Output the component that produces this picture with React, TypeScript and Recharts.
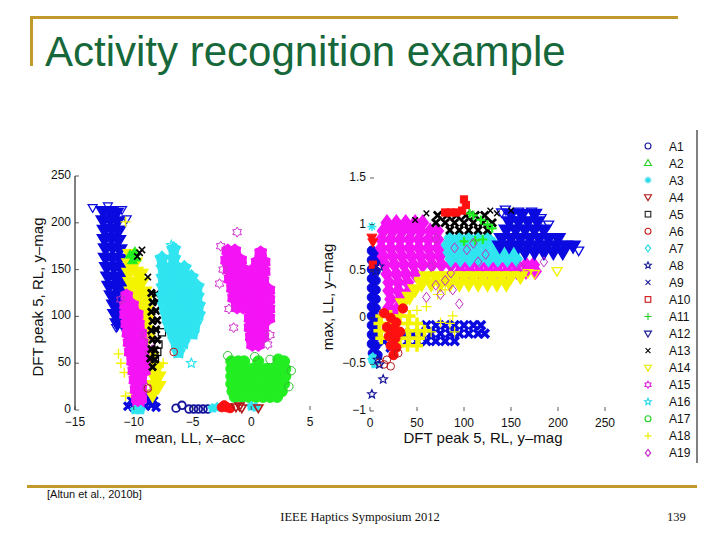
import React from 'react';
import { ScatterChart, Scatter, XAxis, YAxis } from 'recharts';

type P = [number, number];

// ---------- axis ticks ----------
const LEFT_X_TICKS = [-15, -10, -5, 0, 5];
const LEFT_Y_TICKS = [0, 50, 100, 150, 200, 250];
const RIGHT_X_TICKS = [0, 50, 100, 150, 200, 250];
const RIGHT_Y_TICKS = [-1, -0.5, 0, 0.5, 1, 1.5];

// ---------- legend ----------
const LEGEND_LABELS = ['A1','A2','A3','A4','A5','A6','A7','A8','A9','A10','A11','A12','A13','A14','A15','A16','A17','A18','A19'];
const LEGEND_SHAPES = ['circle','triUp','asterisk','triDown','square','circle','diamond','star','x','square','plus','triDown','x','triDown','hex','star','circle','plus','diamond'];
const LEGEND_COLORS = ['#14149a','#22cc22','#22d8ea','#b41414','#222222','#cc2020','#22d8ea','#14149a','#14149a','#cc1010','#22cc22','#14149a','#000000','#e8e800','#e020e0','#22d8ea','#22cc22','#ecec00','#c020c0'];

// ---------- colours ----------
const BLUE = '#0a0ae0';
const MAG = '#f514f5';
const CYAN = '#30e4f0';
const GREEN = '#22ee22';
const YEL = '#f4f400';
const RED = '#ff1010';
const DRED = '#b41818';
const BLK = '#000000';
const NAVY = '#14149a';

// ---------- LEFT plot: mean LL x-acc vs DFT peak 5 RL y-mag ----------
const L_A12: P[] = [
  [-12.6,212],[-12.0,212],[-11.5,210],[-12.6,202],[-12.0,203],[-11.4,201],
  [-12.5,192],[-11.9,193],[-11.3,191],[-12.5,182],[-11.9,183],[-11.3,181],
  [-12.4,172],[-11.8,173],[-11.2,171],[-12.4,162],[-11.8,162],[-11.2,161],
  [-12.3,152],[-11.7,152],[-11.1,151],[-12.2,142],[-11.6,141],[-11.1,142],
  [-12.1,132],[-11.5,131],[-11.0,132],[-11.9,122],[-11.4,121],[-10.9,122],
  [-11.7,112],[-11.2,111],[-10.9,112],[-11.6,102],[-11.1,101],[-11.4,92],[-11.0,93],
];
const L_A12_OUT: P[] = [[-13.5,216],[-12.2,218],[-11.0,214],[-10.6,204],[-11.5,88]];
const L_A9: P[] = [[-10.5,4],[-10.0,3],[-9.5,4],[-9.0,4],[-8.5,5],[-8.1,3],[-9.7,11],[-9.2,13],[-8.7,12],[-8.3,10],[-10.2,10]];
const L_A14: P[] = [
  [-10.3,166],[-10.4,156],[-9.9,157],[-10.4,146],[-9.8,147],[-9.4,145],
  [-10.3,136],[-9.8,135],[-9.3,136],[-10.2,126],[-9.7,125],[-9.1,126],
  [-10.0,116],[-9.6,115],[-9.0,116],[-9.5,105],[-9.0,106],[-9.2,95],[-8.9,96],
  [-9.0,85],[-8.8,76],[-8.5,56],[-8.4,46],[-8.0,45],[-8.3,36],[-7.9,35],[-8.3,26],[-7.9,25],[-8.4,16],
];
const L_A18_OUT: P[] = [[-11.1,50],[-10.7,15],[-10.7,201],[-11.3,60],[-10.8,40],[-10.2,18],[-7.5,50]];
const L_A15: P[] = [
  [-10.6,122],[-10.7,112],[-10.1,112],[-10.7,102],[-10.1,102],[-9.7,102],
  [-10.6,92],[-10.0,92],[-9.6,92],[-10.5,82],[-9.9,82],[-9.4,82],
  [-10.4,72],[-9.8,72],[-9.3,72],[-10.3,62],[-9.7,62],[-9.2,62],
  [-10.1,52],[-9.6,52],[-9.1,52],[-10.0,42],[-9.5,42],[-9.1,42],
  [-9.9,32],[-9.4,32],[-9.8,22],[-9.4,22],[-9.7,12],[-9.4,12],[-9.6,4],
];
const L_A15_OUT: P[] = [[-8.6,72],[-8.7,60],[-11.1,118],[-8.9,24],[-9.0,80]];
const L_A13: P[] = [
  [-8.5,125],[-8.1,124],[-8.4,115],[-8.0,116],[-8.5,105],[-8.1,106],[-8.4,95],[-8.0,96],
  [-8.5,85],[-8.1,86],[-8.4,75],[-8.0,75],[-8.5,65],[-8.2,64],[-8.6,55],[-8.2,54],[-8.4,46],
];
const L_A13_OUT: P[] = [[-9.5,168],[-9.7,164],[-8.8,142],[-9.3,171]];
const L_A5: P[] = [[-7.6,83],[-7.9,70],[-8.2,55],[-8.0,62]];
const L_A2: P[] = [[-10.3,166],[-9.9,169],[-10.1,160],[-9.8,163]];
const L_A16: P[] = [
  [-6.6,172],[-7.6,162],[-6.6,162],
  [-7.5,152],[-6.9,152],[-6.3,152],[-5.7,152],
  [-7.5,142],[-6.9,142],[-6.3,142],[-5.7,142],[-5.1,142],
  [-7.5,132],[-6.9,132],[-6.3,132],[-5.7,132],[-5.1,132],[-4.6,132],
  [-7.5,122],[-6.9,122],[-6.3,122],[-5.7,122],[-5.1,122],[-4.6,122],
  [-7.4,112],[-6.8,112],[-6.2,112],[-5.6,112],[-5.0,112],[-4.5,112],
  [-7.2,102],[-6.7,102],[-6.1,102],[-5.5,102],[-4.9,102],[-4.5,102],
  [-7.0,92],[-6.5,92],[-5.9,92],[-5.3,92],[-4.8,92],
  [-6.7,82],[-6.2,82],[-5.6,82],[-5.0,82],[-6.4,72],[-5.8,72],[-6.2,62],
];
const L_A16_OUT: P[] = [[-5.1,50],[-6.8,176]];
const L_A15B: P[] = [
  [0.8,168],[0.5,158],[1.1,158],[0.0,148],[0.5,148],[1.1,148],
  [-0.2,138],[0.4,138],[1.0,138],[-0.2,128],[0.4,128],[1.0,128],[1.5,128],
  [-0.2,118],[0.4,118],[1.0,118],[1.5,118],[-0.2,108],[0.4,108],[1.0,108],[1.5,108],
  [-0.1,98],[0.5,98],[1.0,98],[1.5,98],[-0.1,88],[0.5,88],[1.0,88],
  [0.0,78],[0.5,78],[1.0,78],[0.1,70],[0.6,70],
  [-2.0,170],[-1.4,170],[-2.1,160],[-1.5,160],[-0.9,160],[-1.9,150],[-1.3,150],[-0.7,150],
  [-1.8,140],[-1.2,140],[-0.6,140],[-1.6,130],[-1.0,130],[-1.5,120],[-0.9,120],[-1.2,110],[-0.7,110],
];
const L_A15B_OUT: P[] = [[-1.2,190],[-2.6,175],[-2.7,135],[-1.9,108],[-1.5,88],[1.4,70],[1.6,80],[-2.4,150]];
const L_A17: P[] = [
  [-1.7,52],[-1.1,52],[-0.6,52],[0.6,52],[2.3,54],[2.8,52],
  [-1.7,44],[-1.1,44],[-0.5,44],[0.1,44],[0.7,44],[1.3,44],[1.9,44],[2.5,44],[2.9,44],
  [-1.7,36],[-1.1,36],[-0.5,36],[0.1,36],[0.7,36],[1.3,36],[1.9,36],[2.5,36],[2.9,36],
  [-1.7,28],[-1.1,28],[-0.5,28],[0.1,28],[0.7,28],[1.3,28],[1.9,28],[2.5,28],[2.8,28],
  [-1.6,20],[-1.0,20],[-0.4,20],[0.2,20],[0.8,20],[1.4,20],[2.0,20],[2.6,20],
  [-1.4,14],[-0.8,14],[-0.2,14],[0.4,14],[1.0,14],[1.6,14],[2.2,14],
];
const L_A17_OUT: P[] = [[3.4,42],[0.3,57],[1.6,54],[-2.0,58],[3.2,25]];
const L_A1: P[] = [[-6.4,2],[-5.9,5],[-5.3,1],[-4.9,1],[-4.5,1],[-4.1,1],[-3.7,1]];
const L_A16_BOT: P[] = [[-3.3,2],[-2.9,3],[0.0,4],[0.4,3],[-9.9,0],[-9.4,0]];
const L_A6: P[] = [[-2.5,3],[-2.1,3],[-1.8,2],[-2.3,5]];
const L_A4: P[] = [[-1.3,3],[-0.8,2],[0.6,2],[-1.0,4]];
const L_A6_OUT: P[] = [[-6.6,62],[-8.8,23]];

// ---------- RIGHT plot: DFT peak 5 RL y-mag vs max LL y-mag ----------
const R_A1: P[] = [
  [2,0.72],[6,0.7],[2,0.62],[6,0.6],[2,0.52],[6,0.5],[2,0.42],[6,0.4],[2,0.32],[6,0.3],
  [2,0.22],[6,0.2],[2,0.12],[6,0.1],[2,0.02],[6,0.0],[2,-0.08],[6,-0.1],[2,-0.18],[6,-0.2],
  [2,-0.28],[6,-0.3],[3,-0.38],[8,-0.4],
];
const R_A16: P[] = [[2,-0.45],[5,-0.5],[3,-0.42]];
const R_A19: P[] = [
  [18,1.02],[28,1.02],[38,1.02],[48,1.02],[56,1.02],
  [14,0.93],[24,0.93],[34,0.93],[44,0.93],[54,0.93],[64,0.93],[72,0.93],
  [12,0.84],[22,0.84],[32,0.84],[42,0.84],[52,0.84],[62,0.84],[72,0.84],
  [12,0.75],[22,0.75],[32,0.75],[42,0.75],[52,0.75],[62,0.75],[72,0.75],[80,0.75],
  [14,0.66],[24,0.66],[34,0.66],[44,0.66],[54,0.66],[64,0.66],[74,0.66],
  [16,0.57],[26,0.57],[36,0.57],[46,0.57],[56,0.57],[66,0.57],[76,0.57],[86,0.57],[96,0.57],
  [106,0.57],[116,0.57],[126,0.57],[136,0.57],[146,0.57],[156,0.57],[166,0.57],[174,0.57],
  [96,0.5],[106,0.5],[116,0.5],[126,0.5],[136,0.5],[146,0.5],[156,0.5],[166,0.5],[176,0.5],
  [18,0.47],[28,0.47],[38,0.47],[48,0.47],[20,0.38],[30,0.38],[40,0.38],
  [20,0.29],[30,0.29],[42,0.29],[22,0.2],[32,0.2],[20,0.11],[30,0.11],[24,0.02],
];
const R_A19_OUT: P[] = [
  [95,0.15],[88,0.3],[70,0.35],[60,0.22],[80,0.4],[115,0.6],[185,0.6],[160,0.55],
  [90,0.75],[103,0.73],[70,0.85],[86,0.48],[75,0.25],[65,0.55],[110,0.8],[123,0.68],
];
const R_A7: P[] = [
  [85,0.86],[95,0.86],[105,0.86],[115,0.86],[125,0.86],
  [82,0.78],[92,0.78],[102,0.78],[112,0.78],[122,0.78],[132,0.78],
  [84,0.7],[94,0.7],[104,0.7],[114,0.7],[124,0.7],[134,0.7],[144,0.7],[154,0.7],
  [86,0.63],[96,0.63],[106,0.63],[116,0.63],[126,0.63],[136,0.63],[146,0.63],[156,0.63],
];
const R_A12: P[] = [
  [150,1.11],[162,1.11],[175,1.11],
  [148,1.03],[158,1.03],[168,1.03],[178,1.03],
  [145,0.94],[155,0.94],[165,0.94],[175,0.94],[185,0.94],
  [140,0.85],[150,0.85],[160,0.85],[170,0.85],[180,0.85],[190,0.85],[200,0.85],
  [138,0.77],[148,0.77],[158,0.77],[168,0.77],[178,0.77],[188,0.77],[198,0.77],[208,0.77],[216,0.77],
  [165,0.7],[175,0.7],[185,0.7],[195,0.7],[205,0.7],
];
const R_A12_OUT: P[] = [[140,1.13],[144,1.16],[158,1.14],[172,1.14],[182,1.07],[222,0.72],[190,1.0]];
const R_A14: P[] = [
  [60,0.44],[70,0.44],[80,0.44],[90,0.44],[100,0.44],[110,0.44],[120,0.44],[130,0.44],[140,0.44],[150,0.44],[160,0.44],
  [55,0.36],[65,0.36],[75,0.36],[85,0.36],[95,0.36],[105,0.36],[115,0.36],[125,0.36],[135,0.36],[145,0.36],
  [35,0.15],[42,0.22],[48,0.3],[55,0.38],
];
const R_A14_OUT: P[] = [[199,0.5],[175,0.47],[168,0.48]];
const R_A13: P[] = [
  [72,1.1],[82,1.1],[92,1.1],[102,1.1],[112,1.1],[122,1.1],
  [70,1.02],[80,1.02],[90,1.02],[100,1.02],[110,1.02],[120,1.02],[130,1.02],
  [85,0.94],[95,0.94],[105,0.94],[115,0.94],[125,0.94],
];
const R_A13_OUT: P[] = [[60,1.12],[48,1.05],[150,1.15],[128,1.15],[135,1.12]];
const R_A10: P[] = [[100,1.27],[102,1.21],[98,1.15],[80,1.13],[86,1.13],[92,1.13],[3,0.57]];
const R_A11: P[] = [[110,1.1],[118,1.05],[125,1.0],[130,0.96],[112,0.83],[120,0.84],[100,0.82],[106,1.12]];
const R_A9: P[] = [
  [60,-0.08],[70,-0.08],[80,-0.08],[90,-0.08],[100,-0.08],[110,-0.08],[118,-0.08],
  [35,-0.17],[45,-0.17],[55,-0.17],[65,-0.17],[75,-0.17],[85,-0.17],[95,-0.17],[105,-0.17],[115,-0.17],[122,-0.17],
  [15,-0.25],[25,-0.25],[40,-0.25],[50,-0.25],[60,-0.25],[70,-0.25],[80,-0.25],[90,-0.25],[22,-0.32],
];
const R_A18: P[] = [
  [12,0.02],[22,0.02],[32,0.02],[42,0.02],
  [10,-0.06],[20,-0.06],[30,-0.06],[40,-0.06],[50,-0.06],
  [10,-0.14],[20,-0.14],[30,-0.14],[40,-0.14],[50,-0.14],[58,-0.14],
  [12,-0.22],[22,-0.22],[32,-0.22],[42,-0.22],[52,-0.22],
  [30,-0.3],[40,-0.3],[50,-0.3],
];
const R_A18_OUT: P[] = [[75,-0.05],[85,-0.06],[65,-0.15],[72,0.25],[80,0.3],[60,0.12],[90,-0.15],[50,0.08],[88,0.02]];
const R_A6: P[] = [[15,0.05],[22,0.0],[28,-0.05],[18,-0.1],[25,-0.12],[32,-0.15],[20,-0.2],[27,-0.22],[22,-0.3],[28,-0.32],[25,-0.4],[35,0.1]];
const R_A6_OUT: P[] = [[15,-0.5],[18,-0.45],[30,-0.38],[10,-0.48],[22,-0.52]];
const R_A4: P[] = [[2,0.86],[3,0.81]];
const R_A3: P[] = [[2,0.98]];
const R_A8: P[] = [[10,-0.5],[14,-0.66],[2,-0.82],[10,0.55],[6,0.5],[8,-0.45]];

// ---------- drawing helpers ----------
const FONT = '"Liberation Sans", Arial, Helvetica, sans-serif';

function starPts(cx: number, cy: number, r: number, n: number, inner: number) {
  const pts: string[] = [];
  for (let i = 0; i < n * 2; i++) {
    const rr = i % 2 === 0 ? r : r * inner;
    const a = -Math.PI / 2 + (i * Math.PI) / n;
    pts.push(`${cx + rr * Math.cos(a)},${cy + rr * Math.sin(a)}`);
  }
  return pts.join(' ');
}

function Mark({ cx, cy, shape, color, size, filled, sw }: any) {
  if (cx == null || cy == null) return null;
  const r = size / 2;
  const st = { stroke: color, strokeWidth: sw, fill: filled ? color : 'none' };
  switch (shape) {
    case 'circle':
      return <circle cx={cx} cy={cy} r={r * 0.85} {...st} />;
    case 'square':
      return <rect x={cx - r * 0.8} y={cy - r * 0.8} width={r * 1.6} height={r * 1.6} {...st} />;
    case 'diamond':
      return <polygon points={`${cx},${cy - r} ${cx + r * 0.75},${cy} ${cx},${cy + r} ${cx - r * 0.75},${cy}`} {...st} />;
    case 'triUp':
      return <polygon points={`${cx},${cy - r} ${cx + r},${cy + r * 0.7} ${cx - r},${cy + r * 0.7}`} {...st} />;
    case 'triDown':
      return <polygon points={`${cx},${cy + r} ${cx + r},${cy - r * 0.7} ${cx - r},${cy - r * 0.7}`} {...st} />;
    case 'star':
      return <polygon points={starPts(cx, cy, r, 5, filled ? 0.7 : 0.45)} {...st} />;
    case 'hex':
      return <polygon points={starPts(cx, cy, r, 6, filled ? 0.8 : 0.6)} {...st} />;
    case 'x': {
      const k = r * 0.7;
      return <path d={`M${cx - k},${cy - k}L${cx + k},${cy + k}M${cx + k},${cy - k}L${cx - k},${cy + k}`} stroke={color} strokeWidth={sw} fill="none" />;
    }
    case 'plus':
      return <path d={`M${cx - r},${cy}L${cx + r},${cy}M${cx},${cy - r}L${cx},${cy + r}`} stroke={color} strokeWidth={sw} fill="none" />;
    case 'asterisk': {
      const k = r * 0.7;
      return <path d={`M${cx - r},${cy}L${cx + r},${cy}M${cx},${cy - r}L${cx},${cy + r}M${cx - k},${cy - k}L${cx + k},${cy + k}M${cx + k},${cy - k}L${cx - k},${cy + k}`} stroke={color} strokeWidth={sw} fill="none" />;
    }
    default:
      return null;
  }
}

const toObj = (a: P[]) => a.map(([x, y]) => ({ x, y }));

type S = { d: P[]; shape: string; color: string; size: number; filled: boolean; sw: number };

const LEFT_SERIES: S[] = [
  { d: L_A12, shape: 'triDown', color: BLUE, size: 14, filled: true, sw: 1.5 },
  { d: L_A12_OUT, shape: 'triDown', color: BLUE, size: 9, filled: false, sw: 1.2 },
  { d: L_A9, shape: 'x', color: BLUE, size: 11, filled: false, sw: 3.2 },
  { d: L_A14, shape: 'triDown', color: YEL, size: 14, filled: true, sw: 1.5 },
  { d: L_A18_OUT, shape: 'plus', color: YEL, size: 10, filled: false, sw: 1.4 },
  { d: L_A2, shape: 'triUp', color: GREEN, size: 10, filled: true, sw: 1 },
  { d: L_A15, shape: 'hex', color: MAG, size: 13, filled: true, sw: 1.5 },
  { d: L_A15_OUT, shape: 'hex', color: '#c030c0', size: 10, filled: false, sw: 1 },
  { d: L_A13, shape: 'x', color: BLK, size: 10, filled: false, sw: 2.8 },
  { d: L_A13_OUT, shape: 'x', color: BLK, size: 9, filled: false, sw: 1.6 },
  { d: L_A5, shape: 'square', color: BLK, size: 9, filled: false, sw: 1.2 },
  { d: L_A16, shape: 'star', color: CYAN, size: 14, filled: true, sw: 1.5 },
  { d: L_A16_OUT, shape: 'star', color: CYAN, size: 10, filled: false, sw: 1.2 },
  { d: L_A15B, shape: 'hex', color: MAG, size: 13, filled: true, sw: 1.5 },
  { d: L_A15B_OUT, shape: 'hex', color: '#d030d0', size: 10, filled: false, sw: 1 },
  { d: L_A17, shape: 'circle', color: GREEN, size: 13, filled: true, sw: 1 },
  { d: L_A17_OUT, shape: 'circle', color: '#30c030', size: 10, filled: false, sw: 1 },
  { d: L_A1, shape: 'circle', color: NAVY, size: 9, filled: false, sw: 1.8 },
  { d: L_A16_BOT, shape: 'star', color: CYAN, size: 10, filled: true, sw: 1 },
  { d: L_A6, shape: 'circle', color: RED, size: 11, filled: true, sw: 1 },
  { d: L_A4, shape: 'triDown', color: DRED, size: 9, filled: false, sw: 1.6 },
  { d: L_A6_OUT, shape: 'circle', color: DRED, size: 9, filled: false, sw: 1 },
];

const RIGHT_SERIES: S[] = [
  { d: R_A1, shape: 'circle', color: BLUE, size: 11, filled: true, sw: 1 },
  { d: R_A16, shape: 'star', color: CYAN, size: 9, filled: true, sw: 1 },
  { d: R_A19, shape: 'diamond', color: MAG, size: 15, filled: true, sw: 1.5 },
  { d: R_A7, shape: 'diamond', color: CYAN, size: 15, filled: true, sw: 1.5 },
  { d: R_A12, shape: 'triDown', color: BLUE, size: 14, filled: true, sw: 1.5 },
  { d: R_A12_OUT, shape: 'triDown', color: BLUE, size: 10, filled: false, sw: 1.3 },
  { d: R_A14, shape: 'triDown', color: YEL, size: 14, filled: true, sw: 1.5 },
  { d: R_A14_OUT, shape: 'triDown', color: YEL, size: 10, filled: false, sw: 1.3 },
  { d: R_A13, shape: 'x', color: BLK, size: 11, filled: false, sw: 2.8 },
  { d: R_A13_OUT, shape: 'x', color: BLK, size: 8, filled: false, sw: 1.4 },
  { d: R_A11, shape: 'plus', color: GREEN, size: 9, filled: false, sw: 2.2 },
  { d: R_A10, shape: 'square', color: RED, size: 9, filled: true, sw: 1 },
  { d: R_A9, shape: 'x', color: BLUE, size: 12, filled: false, sw: 3.5 },
  { d: R_A18, shape: 'plus', color: YEL, size: 12, filled: false, sw: 3.5 },
  { d: R_A18_OUT, shape: 'plus', color: YEL, size: 10, filled: false, sw: 1.2 },
  { d: R_A6, shape: 'circle', color: RED, size: 11, filled: true, sw: 1 },
  { d: R_A6_OUT, shape: 'circle', color: DRED, size: 9, filled: false, sw: 1 },
  { d: R_A19_OUT, shape: 'diamond', color: '#c030c0', size: 10, filled: false, sw: 1 },
  { d: R_A4, shape: 'triDown', color: RED, size: 10, filled: true, sw: 1 },
  { d: R_A3, shape: 'asterisk', color: CYAN, size: 9, filled: false, sw: 1.5 },
  { d: R_A8, shape: 'star', color: NAVY, size: 9, filled: false, sw: 1.2 },
];

const fmt = (v: number) => (v < 0 ? '\u2212' + Math.abs(v) : String(v));

const XTick = (p: any) => {
  const { x, y, payload } = p;
  return (
    <g>
      <line x1={x} x2={x} y1={y - 4} y2={y - 8} stroke="#333" strokeWidth={0.8} />
      <text x={x} y={y} dy={12} textAnchor="middle" fontSize={12} fill="#111" fontFamily={FONT}>{fmt(payload.value)}</text>
    </g>
  );
};
const YTick = (p: any) => {
  const { x, y, payload } = p;
  return (
    <g>
      <line x1={x + 5} x2={x + 9} y1={y} y2={y} stroke="#333" strokeWidth={0.8} />
      <text x={x + 1} y={y} dy={3} textAnchor="end" fontSize={12} fill="#111" fontFamily={FONT}>{fmt(payload.value)}</text>
    </g>
  );
};

function renderSeries(list: S[], prefix: string) {
  return list.map((s, i) => (
    <Scatter
      key={prefix + i}
      data={toObj(s.d)}
      isAnimationActive={false}
      shape={(p: any) => <Mark cx={p.cx} cy={p.cy} shape={s.shape} color={s.color} size={s.size} filled={s.filled} sw={s.sw} />}
    />
  ));
}

export default function App() {
  const gold = '#c29a2c';
  return (
    <div style={{ position: 'absolute', left: 0, top: 0, width: 720, height: 540, background: '#fff', overflow: 'hidden' }}>
      <svg width={720} height={540} style={{ position: 'absolute', left: 0, top: 0 }}>
        <rect x={30} y={16} width={648} height={3} fill={gold} />
        <rect x={30} y={16} width={3} height={50} fill={gold} />
        <text x={45} y={66} fontSize={42} fill="#16683a" fontFamily={FONT}>Activity recognition example</text>

        <text transform="translate(43,297) rotate(-90)" textAnchor="middle" fontSize={15} fill="#111" fontFamily={FONT}>DFT peak 5, RL, y–mag</text>
        <text x={190} y={443} textAnchor="middle" fontSize={15} fill="#111" fontFamily={FONT}>mean, LL, x–acc</text>
        <text transform="translate(333,297) rotate(-90)" textAnchor="middle" fontSize={15} fill="#111" fontFamily={FONT}>max, LL, y–mag</text>
        <text x={483} y={443} textAnchor="middle" fontSize={15} fill="#111" fontFamily={FONT}>DFT peak 5, RL, y–mag</text>

        <line x1={697} x2={697} y1={130} y2={463} stroke="#000" strokeWidth={1} />
        {LEGEND_LABELS.map((lab, i) => {
          const y = 146 + i * 17.05;
          return (
            <g key={lab}>
              <Mark cx={648} cy={y} shape={LEGEND_SHAPES[i]} color={LEGEND_COLORS[i]} size={7} filled={false} sw={1.1} />
              <text x={669} y={y + 4.5} fontSize={12} fill="#111" fontFamily={FONT}>{lab}</text>
            </g>
          );
        })}

        <rect x={27} y={485} width={670} height={3} fill={gold} />
        <text x={47} y={498} fontSize={11} fill="#111" fontFamily={FONT}>[Altun et al., 2010b]</text>
        <text x={360} y={521} textAnchor="middle" fontSize={12.5} fill="#111" fontFamily='"Liberation Serif", "Times New Roman", serif'>IEEE Haptics Symposium 2012</text>
        <text x={667} y={521} fontSize={12.5} fill="#111" fontFamily='"Liberation Serif", "Times New Roman", serif'>139</text>
      </svg>

      <div style={{ position: 'absolute', left: 0, top: 0 }}>
        <ScatterChart width={720} height={540} margin={{ top: 176, right: 410, bottom: 100, left: 15 }}>
          <XAxis type="number" dataKey="x" domain={[-15, 5]} ticks={LEFT_X_TICKS} interval={0} axisLine={false} tickLine={false} tickSize={0} tickMargin={4} tick={(p: any) => <XTick {...p} />} />
          <YAxis type="number" dataKey="y" domain={[0, 250]} ticks={LEFT_Y_TICKS} interval={0} axisLine={{ stroke: '#000', strokeWidth: 1 }} tickLine={false} tickSize={0} tickMargin={5} tick={(p: any) => <YTick {...p} />} />
          {renderSeries(LEFT_SERIES, 'L')}
        </ScatterChart>
      </div>

      <div style={{ position: 'absolute', left: 0, top: 0 }}>
        <ScatterChart width={720} height={540} margin={{ top: 178, right: 115, bottom: 99, left: 310 }}>
          <XAxis type="number" dataKey="x" domain={[0, 250]} ticks={RIGHT_X_TICKS} interval={0} axisLine={false} tickLine={false} tickSize={0} tickMargin={4} tick={(p: any) => <XTick {...p} />} />
          <YAxis type="number" dataKey="y" domain={[-1, 1.5]} ticks={RIGHT_Y_TICKS} interval={0} axisLine={false} tickLine={false} tickSize={0} tickMargin={5} tick={(p: any) => <YTick {...p} />} />
          {renderSeries(RIGHT_SERIES, 'R')}
        </ScatterChart>
      </div>
    </div>
  );
}
